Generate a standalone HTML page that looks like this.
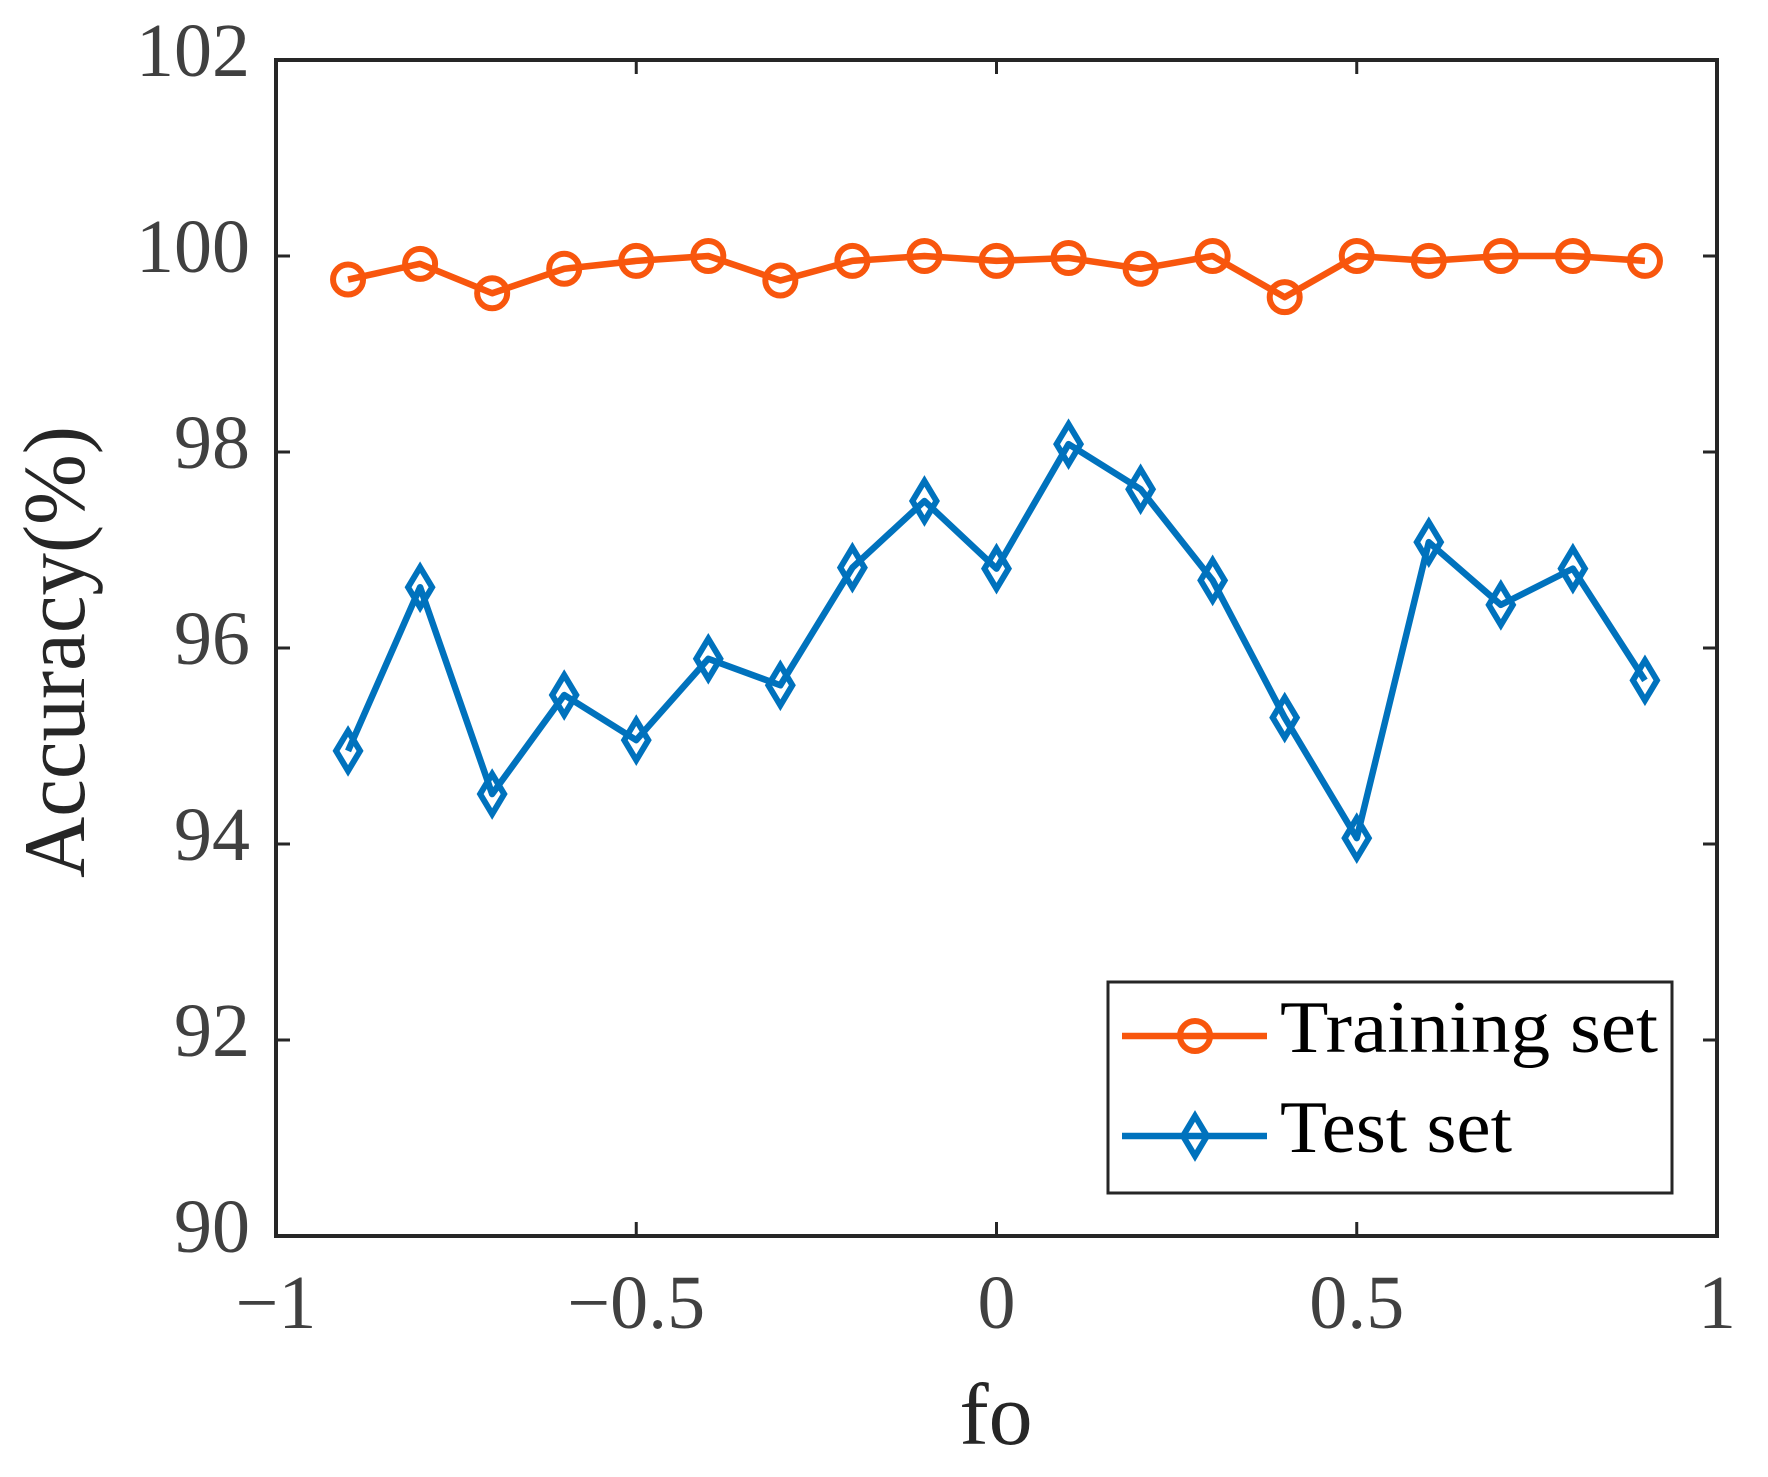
<!DOCTYPE html>
<html><head><meta charset="utf-8"><style>
html,body{margin:0;padding:0;background:#fff;}
svg{display:block;}
</style></head><body>
<svg id="chart" width="1768" height="1477" xmlns="http://www.w3.org/2000/svg"></svg>
<script>
const xValues=[-0.9,-0.8,-0.7,-0.6,-0.5,-0.4,-0.3,-0.2,-0.1,0,0.1,0.2,0.3,0.4,0.5,0.6,0.7,0.8,0.9];
const trainValues=[99.76,99.92,99.62,99.87,99.95,100,99.75,99.95,100,99.95,99.98,99.87,100,99.58,100,99.95,100,100,99.95];
const testValues=[94.95,96.62,94.51,95.52,95.06,95.89,95.62,96.82,97.5,96.81,98.08,97.62,96.69,95.29,94.06,97.08,96.44,96.81,95.67];
const xTicks=[-1,-0.5,0,0.5,1];
const xTickLabels=["\u22121","\u22120.5","0","0.5","1"];
const yTicks=[90,92,94,96,98,100,102];
const yTickLabels=["90","92","94","96","98","100","102"];

const L=276,R=1717,T=60,B=1236;
const sx=v=>L+(v+1)/2*(R-L);
const sy=v=>B-(v-90)/12*(B-T);
const svg=document.getElementById('chart');
const NS='http://www.w3.org/2000/svg';
function mk(tag,attrs,parent){const e=document.createElementNS(NS,tag);for(const k in attrs)e.setAttribute(k,attrs[k]);(parent||svg).appendChild(e);return e;}
const font='"Liberation Serif", serif';

xTicks.forEach((v,i)=>{
  const x=sx(v);
  const t1=mk('line',{x1:x,y1:B,x2:x,y2:B-14,stroke:'#262626','stroke-width':3});
  
  
  const t2=mk('line',{x1:x,y1:T,x2:x,y2:T+14,stroke:'#262626','stroke-width':3});
  
  
  const lb=mk('text',{x:x,y:1328,'text-anchor':'middle','font-family':font,'font-size':76,fill:'#404040'});
  lb.textContent=xTickLabels[i];
  
  
});
yTicks.forEach((v,i)=>{
  const y=sy(v);
  const t1=mk('line',{x1:L,y1:y,x2:L+14,y2:y,stroke:'#262626','stroke-width':3});
  
  
  const t2=mk('line',{x1:R,y1:y,x2:R-14,y2:y,stroke:'#262626','stroke-width':3});
  
  
  const lb=mk('text',{x:250,y:y+16,'text-anchor':'end','font-family':font,'font-size':76,fill:'#404040'});
  lb.textContent=yTickLabels[i];
  
  
});
const frame=mk('rect',{x:L,y:T,width:R-L,height:B-T,fill:'none',stroke:'#262626','stroke-width':4});



const ORANGE='#F8560D',BLUE='#0072BD';
const LW=6.5;
function diamond(cx,cy){return `M${cx},${cy-20} L${cx+12},${cy} L${cx},${cy+20} L${cx-12},${cy} Z`;}

const trainLine=mk('polyline',{points:xValues.map((x,i)=>sx(x)+','+sy(trainValues[i])).join(' '),fill:'none',stroke:ORANGE,'stroke-width':LW,'stroke-linejoin':'round'});


xValues.forEach((x,i)=>{
  const c=mk('circle',{cx:sx(x),cy:sy(trainValues[i]),r:15,fill:'none',stroke:ORANGE,'stroke-width':6});
  
  
});
const testLine=mk('polyline',{points:xValues.map((x,i)=>sx(x)+','+sy(testValues[i])).join(' '),fill:'none',stroke:BLUE,'stroke-width':LW,'stroke-linejoin':'round'});


xValues.forEach((x,i)=>{
  const d=mk('path',{d:diamond(sx(x),sy(testValues[i])),fill:'none',stroke:BLUE,'stroke-width':6});
  
  
});

const lg=mk('g',{});


mk('rect',{x:1108,y:982,width:564,height:211,fill:'#fff',stroke:'#262626','stroke-width':3},lg);
const e1=mk('g',{},lg);


mk('line',{x1:1122,y1:1036,x2:1267,y2:1036,stroke:ORANGE,'stroke-width':LW},e1);
mk('circle',{cx:1195,cy:1036,r:15,fill:'none',stroke:ORANGE,'stroke-width':6},e1);
const t1=mk('text',{x:1280,y:1052,'font-family':font,'font-size':74,fill:'#000',textLength:378,lengthAdjust:'spacingAndGlyphs'},e1);
t1.textContent='Training set';
const e2=mk('g',{},lg);


mk('line',{x1:1122,y1:1136,x2:1267,y2:1136,stroke:BLUE,'stroke-width':LW},e2);
mk('path',{d:diamond(1195,1136),fill:'none',stroke:BLUE,'stroke-width':6},e2);
const t2=mk('text',{x:1280,y:1152,'font-family':font,'font-size':74,fill:'#000',textLength:232,lengthAdjust:'spacingAndGlyphs'},e2);
t2.textContent='Test set';

const xt=mk('text',{x:996,y:1444,'text-anchor':'middle','font-family':font,'font-size':88,fill:'#262626'});
xt.textContent='fo';


const yt=mk('text',{x:0,y:0,'text-anchor':'middle','font-family':font,'font-size':88,fill:'#262626',transform:'translate(84,652) rotate(-90)',textLength:452,lengthAdjust:'spacingAndGlyphs'});
yt.textContent='Accuracy(%)';


</script>
</body></html>
